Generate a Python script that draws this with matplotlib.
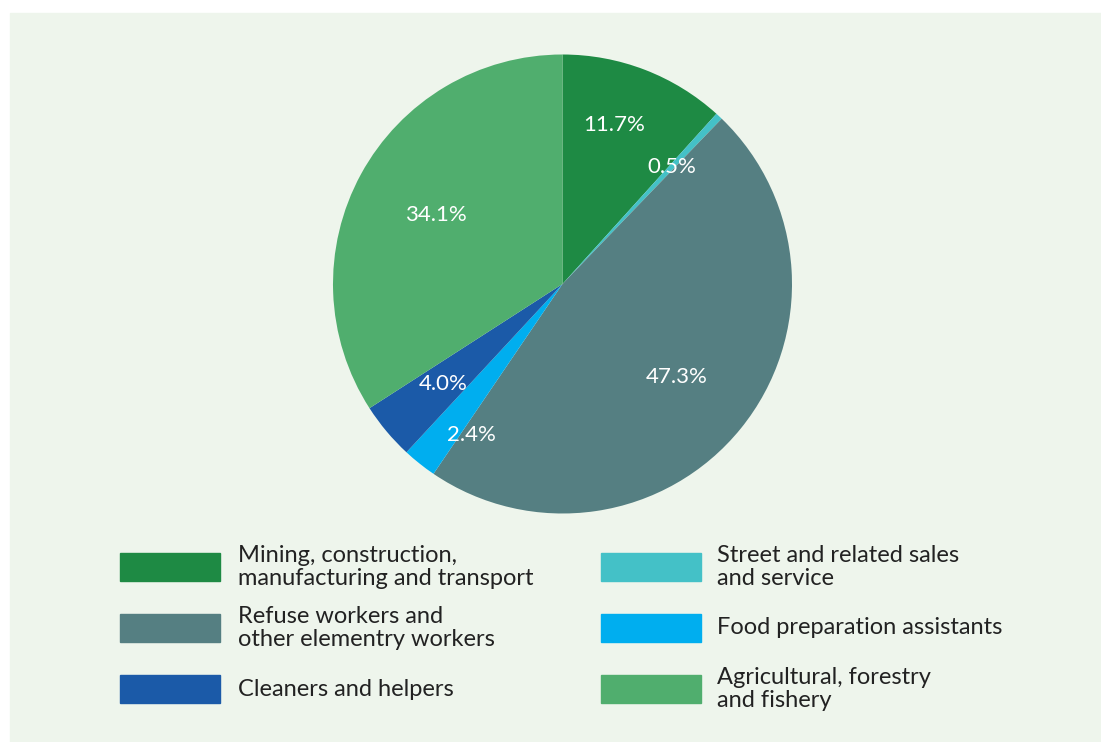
import numpy as np
import matplotlib.pyplot as plt
from matplotlib.patches import Rectangle

plt.rcParams['font.family'] = ['Lato', 'DejaVu Sans']

# datos del grafico (orden horario desde arriba)
categories = ['Mining, construction,\nmanufacturing and transport',
              'Street and related sales\nand service',
              'Refuse workers and\nother elementry workers',
              'Food preparation assistants',
              'Cleaners and helpers',
              'Agricultural, forestry\nand fishery']
shares = [11.7, 0.5, 47.3, 2.4, 4.0, 34.1]
colors = ['#1E8A44', '#44C1C7', '#557F82', '#00AEEF', '#1B5AA8', '#50AE6E']
label_r = [0.73, 0.70, 0.64, 0.77, 0.68, 0.63]    # distancia de cada etiqueta
label_da = [3, 0, 0, 7.5, 0, 0]                    # ajuste de angulo (grados)

W, H = 1101, 742
fig = plt.figure(figsize=(W / 100, H / 100), dpi=100)
fig.patch.set_facecolor('white')

# panel de fondo
fig.add_artist(Rectangle((10 / W, 0), 1 - 10 / W, 1 - 13 / H,
                         transform=fig.transFigure, color='#EEF5EC', zorder=0))

cx, cy, r = 562.5, 284, 229.5
ax = fig.add_axes([(cx - r) / W, (H - cy - r) / H, 2 * r / W, 2 * r / H])
wedges, _ = ax.pie(shares, colors=colors, startangle=90, counterclock=False,
                   radius=1, wedgeprops=dict(linewidth=0))
ax.set_xlim(-1, 1)
ax.set_ylim(-1, 1)
ax.set_aspect('equal')
ax.axis('off')

for w, v, lr, da in zip(wedges, shares, label_r, label_da):
    ang = np.deg2rad((w.theta1 + w.theta2) / 2 + da)
    ax.text(lr * np.cos(ang), lr * np.sin(ang), f'{v:.1f}%', color='white',
            fontsize=16, ha='center', va='center')

# leyenda manual en dos columnas
order = [0, 2, 4, 1, 3, 5]
rows_y = [567, 628, 689]
cols_x = [120, 601]
text_x = [238, 717]
for k, i in enumerate(order):
    col, row = divmod(k, 3)
    y = rows_y[row]
    fig.add_artist(Rectangle((cols_x[col] / W, (H - y - 14) / H), 100 / W, 28 / H,
                             transform=fig.transFigure, color=colors[i]))
    fig.text(text_x[col] / W, (H - y) / H, categories[i], fontsize=17,
             color='#222222', ha='left', va='center', linespacing=1.12)

fig.savefig('out.png', dpi=100, facecolor=fig.get_facecolor())
